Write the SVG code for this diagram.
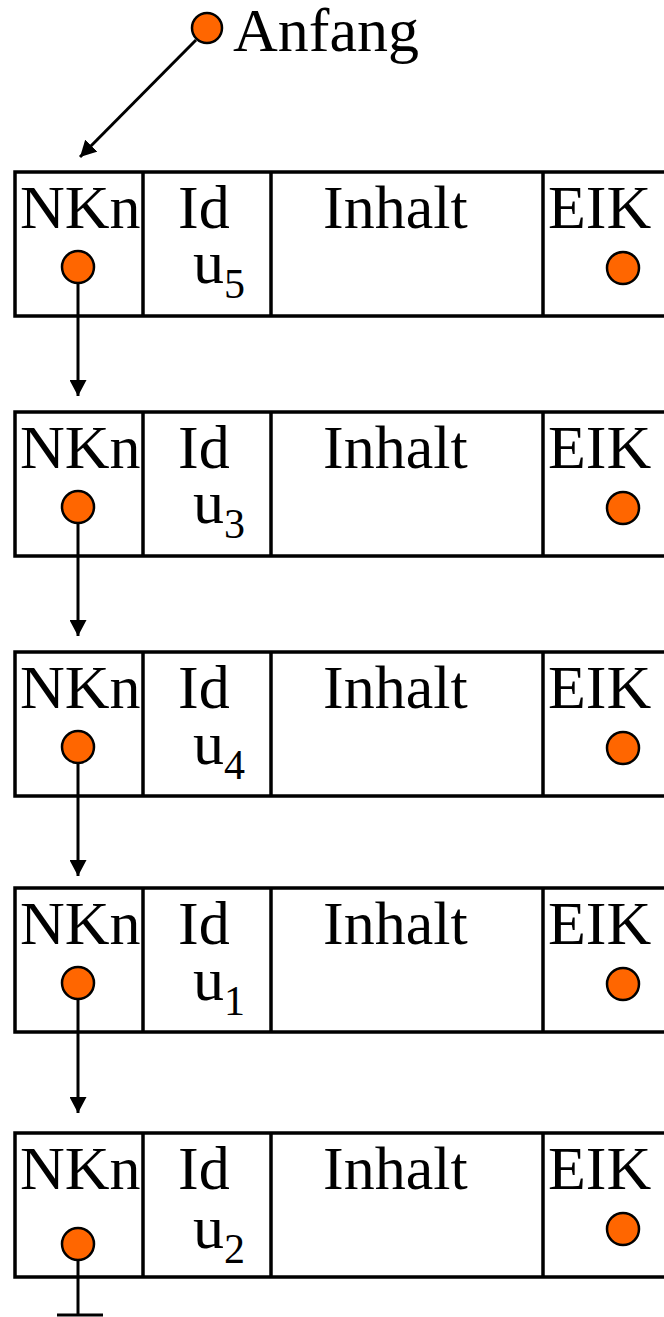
<svg xmlns="http://www.w3.org/2000/svg" width="664" height="1317" viewBox="0 0 664 1317">
  <style>
    .box { fill: #fff; stroke: #000; stroke-width: 3.5; }
    .div { stroke: #000; stroke-width: 3.5; }
    .lbl { font-family: "Liberation Serif", "Times New Roman", serif; font-size: 62px; fill: #000; }
    .sub { font-size: 42px; }
    .dot { fill: #FF6600; stroke: #000; stroke-width: 2.5; }
    .link { stroke: #000; stroke-width: 3; fill: none; }
  </style>
  <defs>
    <marker id="arrow" markerUnits="userSpaceOnUse" markerWidth="17" markerHeight="17" refX="16" refY="8.5" orient="auto">
      <path d="M0,0 L16,8.5 L0,17 Z" fill="#000"/>
    </marker>
    <!-- one list record: NKn | Id | Inhalt | EIK -->
    <g id="record">
      <rect class="box" x="15" y="0" width="680" height="144"/>
      <line class="div" x1="143" y1="0" x2="143" y2="144"/>
      <line class="div" x1="271" y1="0" x2="271" y2="144"/>
      <line class="div" x1="543" y1="0" x2="543" y2="144"/>
      <text class="lbl" x="20" y="56">NKn</text>
      <text class="lbl" x="178" y="56">Id</text>
      <text class="lbl" x="323" y="56">Inhalt</text>
      <text class="lbl" x="548" y="56">EIK</text>
      <circle class="dot" cx="623" cy="96" r="16"/>
    </g>
  </defs>

  <!-- list head pointer -->
  <g id="anfang">
    <circle class="dot" cx="207" cy="28" r="15"/>
    <text class="lbl" x="233" y="51">Anfang</text>
  </g>

  <g id="node-u5" transform="translate(0,172)">
    <use href="#record"/>
    <text class="lbl" x="193" y="111">u<tspan class="sub" dy="15">5</tspan></text>
    <circle class="dot" cx="78" cy="95" r="16"/>
  </g>
  <g id="node-u3" transform="translate(0,412)">
    <use href="#record"/>
    <text class="lbl" x="193" y="111">u<tspan class="sub" dy="15">3</tspan></text>
    <circle class="dot" cx="78" cy="95" r="16"/>
  </g>
  <g id="node-u4" transform="translate(0,652)">
    <use href="#record"/>
    <text class="lbl" x="193" y="112">u<tspan class="sub" dy="15">4</tspan></text>
    <circle class="dot" cx="78" cy="95" r="16"/>
  </g>
  <g id="node-u1" transform="translate(0,888)">
    <use href="#record"/>
    <text class="lbl" x="193" y="112">u<tspan class="sub" dy="15">1</tspan></text>
    <circle class="dot" cx="78" cy="95" r="16"/>
  </g>
  <g id="node-u2" transform="translate(0,1133)">
    <use href="#record"/>
    <text class="lbl" x="193" y="115">u<tspan class="sub" dy="15">2</tspan></text>
    <circle class="dot" cx="78" cy="111" r="16"/>
  </g>

  <!-- next-node pointers -->
  <g id="connectors">
    <line class="link" x1="196" y1="40" x2="80" y2="157" marker-end="url(#arrow)"/>
    <line class="link" x1="78" y1="283" x2="78" y2="396" marker-end="url(#arrow)"/>
    <line class="link" x1="78" y1="523" x2="78" y2="636" marker-end="url(#arrow)"/>
    <line class="link" x1="78" y1="763" x2="78" y2="876" marker-end="url(#arrow)"/>
    <line class="link" x1="78" y1="999" x2="78" y2="1113" marker-end="url(#arrow)"/>
    <!-- null terminator -->
    <line class="link" x1="78" y1="1260" x2="78" y2="1315"/>
    <line class="link" x1="57" y1="1315" x2="103" y2="1315"/>
  </g>
</svg>
